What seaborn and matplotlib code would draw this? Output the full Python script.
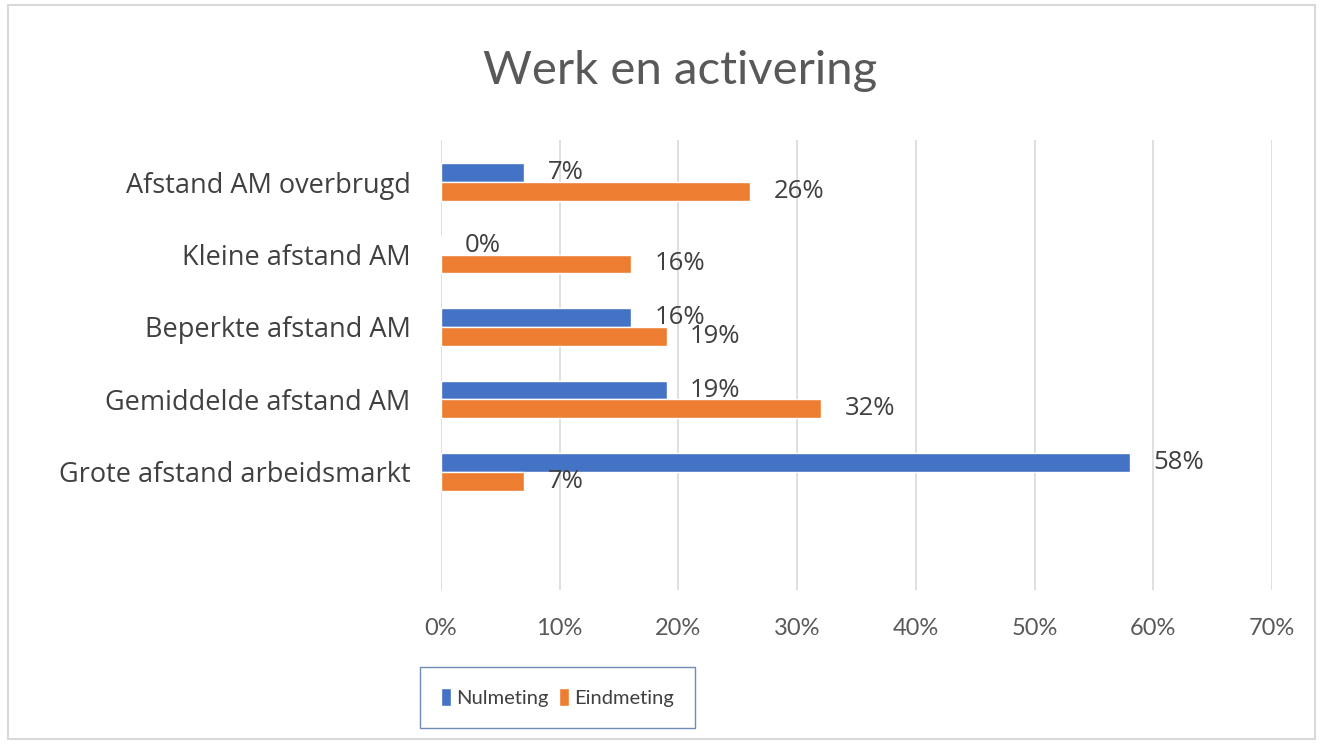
import pandas as pd
import matplotlib
matplotlib.use("Agg")
import matplotlib.pyplot as plt
import seaborn as sns
from matplotlib.patches import Rectangle
from matplotlib.ticker import PercentFormatter

# Data
categorieen = ["Afstand AM overbrugd", "Kleine afstand AM", "Beperkte afstand AM",
               "Gemiddelde afstand AM", "Grote afstand arbeidsmarkt"]
nulmeting = [7, 0, 16, 19, 58]
eindmeting = [26, 16, 19, 32, 7]
reeksen = ["Nulmeting", "Eindmeting"]
kleuren = ["#4472C4", "#ED7D31"]

df = pd.DataFrame({
    "categorie": categorieen * 2,
    "waarde": nulmeting + eindmeting,
    "meting": [reeksen[0]] * len(categorieen) + [reeksen[1]] * len(categorieen),
})

sns.set_theme(style="white")
plt.rcParams["font.family"] = ["Lato", "DejaVu Sans"]

fig = plt.figure(figsize=(13.23, 7.48), dpi=100)
ax = fig.add_axes([0.3333, 0.2112, 0.6282, 0.6016])

sns.barplot(data=df, x="waarde", y="categorie", hue="meting",
            hue_order=reeksen, order=categorieen, palette=kleuren,
            orient="h", width=0.52, saturation=1, ax=ax, legend=True)

# Labels at the end of each bar
for cont in ax.containers:
    ax.bar_label(cont, fmt="{:.0f}%", padding=17, fontsize=18.5,
                 color="#404040", family="Open Sans")

ax.set_xlim(0, 70)
ax.set_ylim(5.63, -0.58)
ax.set_xticks(range(0, 71, 10))
ax.xaxis.set_major_formatter(PercentFormatter(xmax=100, decimals=0))
ax.set_yticks(range(len(categorieen)), categorieen, fontfamily="Open Sans",
              fontsize=19.5, color="#404040")
ax.tick_params(axis="x", labelsize=17, colors="#595959", pad=20, length=0)
ax.tick_params(axis="y", pad=22, length=0)
ax.set_xlabel("")
ax.set_ylabel("")
ax.grid(axis="x", color="#D9D9D9", linewidth=1.2)
ax.grid(axis="y", visible=False)
sns.despine(ax=ax, left=True, bottom=True)

fig.text(0.514, 0.905, "Werk en activering", fontsize=34, color="#595959",
         ha="center", va="center")

# Legend below the axis, boxed
handles, labels = ax.get_legend_handles_labels()
ax.legend(handles, labels, loc="center", bbox_to_anchor=(0.4214, 0.0675),
          bbox_transform=fig.transFigure, ncol=2, fontsize=14.5,
          frameon=True, fancybox=False, edgecolor="#4A6FA5",
          handlelength=0.5, handleheight=1.0, handletextpad=0.25,
          columnspacing=0.55, borderpad=1.05, borderaxespad=0,
          labelcolor="#404040")

# Chart area border
fig.patches.append(Rectangle((0.006, 0.012), 0.988, 0.981, transform=fig.transFigure,
                             fill=False, edgecolor="#D9D9D9", linewidth=1.5))

fig.savefig("out.png", dpi=100)
